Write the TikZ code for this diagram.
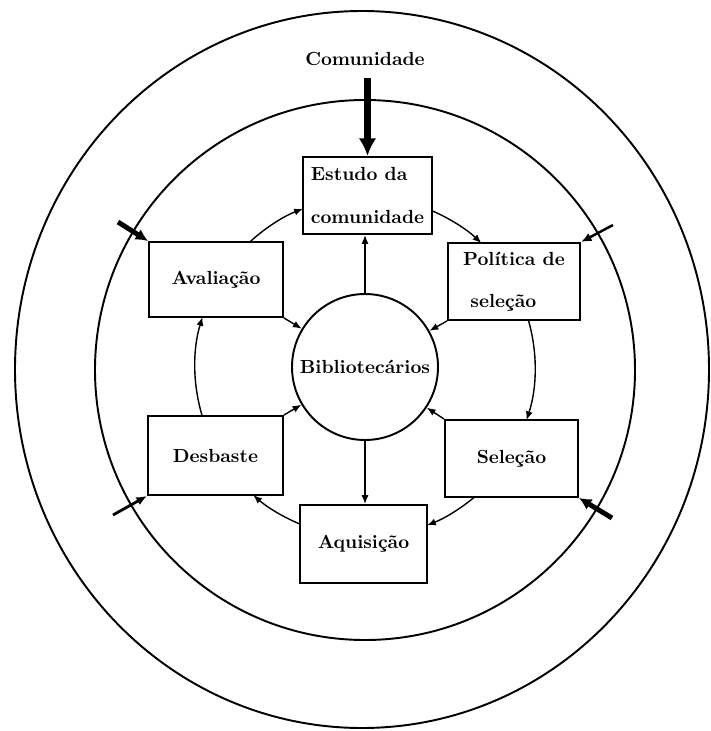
\documentclass[tikz,border=0pt]{standalone}
\usetikzlibrary{arrows.meta}
\begin{document}
\begin{tikzpicture}[scale=0.2]
\tikzstyle{every node}+=[inner sep=0pt]
\tikzstyle{etapa}=[draw=black, line width=1.1pt, fill=white, minimum height=1.54cm, font=\fontsize{10.8}{13}\bfseries, align=left]
\tikzstyle{ciclo}=[black, line width=0.8pt, -{Latex[length=5pt,width=4pt]}]
\tikzstyle{entrada}=[black, -{Latex[length=7pt,width=7pt]}]
\useasboundingbox (0,0) rectangle (71.1,-73.1);
\draw [black, line width=1.1pt] (36.2,-36.95) ellipse (34.7 and 35.85);
\draw [black, line width=1.1pt] (36.5,-37) circle (27);
\draw (36.5,-36.7) node [circle, draw=black, line width=1.1pt, minimum size=2.92cm, font=\fontsize{10.8}{13}\bfseries] (bib) {Bibliotecários};
\draw (36.5,-5.9) node [font=\fontsize{10.8}{13}\bfseries] (com) {Comunidade};
\draw (36.75,-19.55) node [etapa, minimum width=2.58cm] (est) {Estudo da\\[11pt]comunidade};
\draw (51.4,-28.15) node [etapa, minimum width=2.64cm] (pol) {Política de\\[11pt]\ seleção};
\draw (51.15,-45.85) node [etapa, minimum width=2.66cm] (sel) {Seleção};
\draw (36.35,-54.4) node [etapa, minimum width=2.54cm, minimum height=1.56cm] (aqu) {Aquisição};
\draw (21.55,-45.55) node [etapa, minimum width=2.7cm, minimum height=1.58cm] (des) {Desbaste};
\draw (21.6,-27.95) node [etapa, minimum width=2.68cm, minimum height=1.5cm] (ava) {Avaliação};
\draw [ciclo] ([shift={(66.8:17)}]bib.center) arc [start angle=66.8, end angle=46.8, radius=17];
\draw [ciclo] ([shift={(16:17)}]bib.center) arc [start angle=16, end angle=-18.2, radius=17];
\draw [ciclo] ([shift={(-49.9:17)}]bib.center) arc [start angle=-49.9, end angle=-68.6, radius=17];
\draw [ciclo] ([shift={(-112.5:17)}]bib.center) arc [start angle=-112.5, end angle=-131.1, radius=17];
\draw [ciclo] ([shift={(196.7:17)}]bib.center) arc [start angle=196.7, end angle=162.9, radius=17];
\draw [ciclo] ([shift={(132.7:17)}]bib.center) arc [start angle=132.7, end angle=111.4, radius=17];
\draw [ciclo] (bib.north) -- (bib.north |- est.south);
\draw [ciclo] (bib.south) -- (bib.south |- aqu.north);
\draw [ciclo] (ava.south east) -- (bib);
\draw [ciclo] (pol.south west) -- (bib);
\draw [ciclo] (des.north east) -- (bib);
\draw [ciclo] (sel.north west) -- (bib);
\draw [entrada, line width=4.5pt, -{Latex[length=10pt,width=10pt]}, shorten <=7pt] (com.south -| est.north) -- (est.north);
\coordinate (ne) at (11.8,-22.2);
\coordinate (nd) at (61.3,-22.5);
\coordinate (se) at (11.3,-51.5);
\coordinate (sd) at (61.2,-51.8);
\draw [entrada, line width=2.8pt] (ne) -- (ava.north west);
\draw [entrada, line width=1.4pt, -{Latex[length=6pt,width=5pt]}] (nd) -- (pol.north east);
\draw [entrada, line width=1.6pt, -{Latex[length=6pt,width=5pt]}] (se) -- (des.south west);
\draw [entrada, line width=2.8pt] (sd) -- (sel.south east);
\end{tikzpicture}
\end{document}
